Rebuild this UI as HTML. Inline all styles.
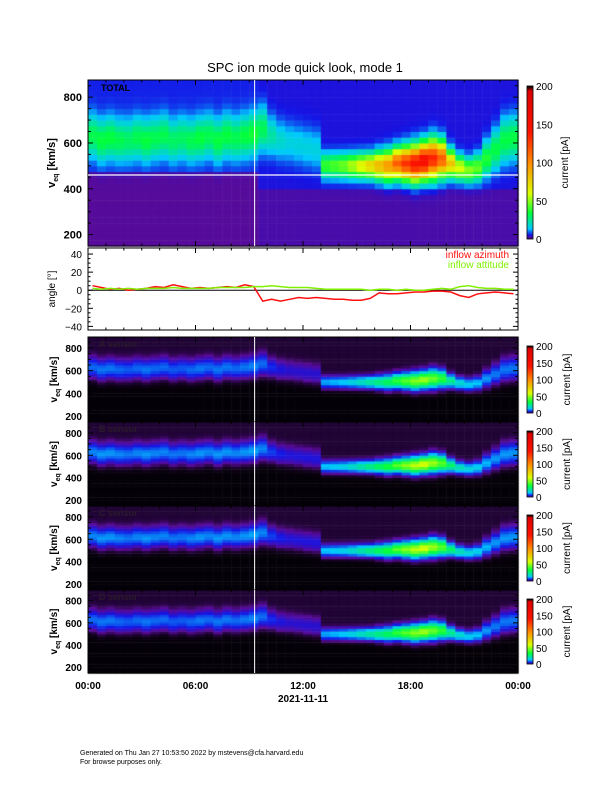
<!DOCTYPE html>
<html><head><meta charset="utf-8"><style>
body{margin:0;background:#fff;}
#wrap{position:relative;width:612px;height:792px;font-family:"Liberation Sans",sans-serif;}
canvas,svg{position:absolute;left:0;top:0;}
</style></head><body>
<div id="wrap">
<canvas id="cv" width="612" height="792"></canvas>
<svg id="sv" width="612" height="792"></svg>
</div>
<script>
// ---- data (half-hour columns, 00:00 .. 23:30) ----
const bandCenter = [620,600,610,600,600,610,600,610,620,600,610,600,610,620,600,620,610,620,630,
  650,620,600,590,580,570,560,
  490,490,490,490,490,490,
  490,490,500,500,500,510,520,520,
  500,480,470,480,
  520,560,600,610];
const bandAmp = [26,28,28,26,24,26,28,26,26,24,24,26,28,26,28,28,26,28,30,
  26,18,14,12,12,12,12,
  35,38,42,50,60,70,
  80,90,110,125,140,150,130,110,
  75,55,45,40,
  32,28,28,28];
const bandWidth = [85,85,85,85,85,85,85,85,85,85,85,85,85,85,85,85,85,85,85,
  90,80,80,80,80,80,80,
  50,50,50,50,50,50,
  55,60,60,65,70,70,75,70,
  55,50,50,55,
  70,80,90,90];
const azimuth = [5,3,1,2,0,1,2,4,3,6,4,2,3,2,3,4,3,6,4,
  -12,-10,-12,-10,-8,-9,-8,
  -9,-10,-10,-11,-11,-9,
  -3,-4,-4,-3,-2,-2,-1,-1,
  -2,-6,-8,-4,
  -3,-2,-3,-4];
const attitude = [2,1,2,1,2,1,2,2,2,3,2,2,2,2,3,3,3,3,4,
  4,5,4,3,3,3,2,
  1,1,1,1,1,0,
  1,1,0,1,0,0,1,2,
  1,4,5,3,
  2,2,1,1];
const velTicks = [200,400,600,800];
const angTicks = [-40,-20,0,20,40];
const cbTicks = [0,50,100,150,200];
const timeLabels = ["00:00","06:00","12:00","18:00","00:00"];
const sensorScale = [0.35,0.4,0.4,0.35];
const sensorNames = ["A sensor","B sensor","C sensor","D sensor"];

const X0=88,X1=518;
const xs=h=>X0+(X1-X0)*h/24;
function vScale(top,bot,vmax,vmin){return v=>top+(vmax-v)/(vmax-vmin)*(bot-top);}
const panels=[
 {top:80,bot:246,vmax:875,vmin:150,kind:'total'},
 {top:337,bot:422,vmax:897,vmin:147,kind:0},
 {top:422,bot:506,vmax:897,vmin:147,kind:1},
 {top:506,bot:590,vmax:897,vmin:147,kind:2},
 {top:590,bot:673,vmax:897,vmin:147,kind:3}];
const AT=248,AB=330,AMAX=46.7,AMIN=-44;
const ys=a=>AT+(AMAX-a)/(AMAX-AMIN)*(AB-AT);

const stops=[[0,[0,0,0]],[0.01,[90,10,150]],[0.03,[20,20,230]],[0.07,[0,200,255]],[0.17,[0,255,60]],[0.3,[220,255,0]],[0.5,[255,140,0]],[0.7,[255,20,0]],[0.97,[220,0,0]],[1,[0,0,0]]];
function cmap(val){let t=Math.max(0,Math.min(1,val/200));
 for(let i=1;i<stops.length;i++){if(t<=stops[i][0]){const a=stops[i-1],b=stops[i];const f=(t-a[0])/(b[0]-a[0]);
  return `rgb(${a[1].map((c,k)=>Math.round(c+(b[1][k]-c)*f)).join(',')})`;}}
 return 'rgb(0,0,0)';}

const cv=document.getElementById('cv');const ctx=cv.getContext('2d');
const VSTEP=25;
panels.forEach(p=>{
 const vy=vScale(p.top,p.bot,p.vmax,p.vmin);
 for(let i=0;i<bandCenter.length;i++){
  const h=i*0.5,xa=xs(h),xb=xs(h+0.5);
  for(let v=125;v<925;v+=VSTEP){
   const c=bandCenter[i],w=bandWidth[i];
   let val;
   if(p.kind==='total'){
    let bg;
    if(h<9.5) bg=v>460?6.5:2.2; else bg=v>390?5.5:3;
    val=bg+bandAmp[i]*Math.exp(-Math.pow((v-c)/w,2));
   }else{
    const bg=v>c-w?0.7:0.1;
    val=bg+bandAmp[i]*sensorScale[p.kind]*Math.exp(-Math.pow((v-c)/(w*0.9),2));
   }
   let ya=vy(v+VSTEP),yb=vy(v);
   ya=Math.max(ya,p.top);yb=Math.min(yb,p.bot);
   if(yb<=ya)continue;
   ctx.fillStyle=cmap(val);ctx.fillRect(xa,ya,xb-xa+0.5,yb-ya+0.5);
  }
 }
});
function colorbar(top,bot){for(let y=top;y<bot;y++){ctx.fillStyle=cmap(200*(bot-y)/(bot-top));ctx.fillRect(527,y,6,1);}}

const NS='http://www.w3.org/2000/svg';const sv=document.getElementById('sv');
function el(tag,attrs,txt){const e=document.createElementNS(NS,tag);for(const k in attrs)e.setAttribute(k,attrs[k]);if(txt!==undefined)e.textContent=txt;sv.appendChild(e);return e;}

const title=el('text',{x:305,y:72,'font-size':13,'text-anchor':'middle',fill:'#000'},'SPC ion mode quick look, mode 1');



panels.forEach((p,pi)=>{
 const vy=vScale(p.top,p.bot,p.vmax,p.vmin);
 const fr=el('rect',{x:X0,y:p.top,width:X1-X0,height:p.bot-p.top,fill:'none',stroke:'#000','stroke-width':1});
 
 
 const vl=el('line',{x1:xs(9.3),x2:xs(9.3),y1:p.top,y2:p.bot,stroke:'#fff','stroke-width':1});
 
 
 if(p.kind==='total'){
  const hl=el('line',{x1:X0,x2:X1,y1:vy(460),y2:vy(460),stroke:'#fff','stroke-width':1.2});
  
  
  const tl=el('text',{x:X0+13,y:p.top+11,'font-size':9,'font-weight':'bold',fill:'#000'},'TOTAL');
  
  
 } else {
  const tl=el('text',{x:X0+11,y:p.top+10,'font-size':9,'font-weight':'bold',fill:'#2a1a2a'},sensorNames[p.kind]);
  
  
 }
 const big=p.kind==='total';
 for(let v=150;v<=900;v+=50){const y=vy(v);if(y<p.top||y>p.bot)continue;
  const L=(v%200===0)?5:3;
  el('line',{x1:X0,x2:X0+L,y1:y,y2:y,stroke:'#000'});el('line',{x1:X1,x2:X1-L,y1:y,y2:y,stroke:'#000'});}
 velTicks.forEach(v=>{const t=el('text',{x:X0-6,y:vy(v)+4,'font-size':big?11:10,'font-weight':'bold','text-anchor':'end',fill:'#000'},v);
  
  });
 const cy=(p.top+p.bot)/2;
 const yl=el('text',{x:0,y:0,'font-size':big?11:10,'font-weight':'bold','text-anchor':'middle',fill:'#000',transform:`translate(${big?55:57},${cy}) rotate(-90)`});
 yl.innerHTML='v<tspan font-size="7" dy="3">eq</tspan><tspan dy="-3"> [km/s]</tspan>';
 
 
 const ct=big?86:p.top+9,cb=big?239:p.bot-9;
 colorbar(ct,cb);
 const cbf=el('rect',{x:527,y:ct,width:6,height:cb-ct,fill:'none',stroke:'#000','stroke-width':0.8});
 
 
 cbTicks.forEach(t=>{const y=cb-(cb-ct)*t/200;const tt=el('text',{x:536,y:y+4,'font-size':10,fill:'#000'},t);
  
  });
 const cl=el('text',{x:0,y:0,'font-size':10,'text-anchor':'middle',fill:'#000',transform:`translate(${big?568:570},${(ct+cb)/2}) rotate(-90)`},'current [pA]');
 
 
 for(let h=0;h<=24;h++){const x=xs(h);const L=h%6===0?5:2.5;
  el('line',{x1:x,x2:x,y1:p.bot,y2:p.bot-L,stroke:'#000'});el('line',{x1:x,x2:x,y1:p.top,y2:p.top+L,stroke:'#000'});}
});

const af=el('rect',{x:X0,y:AT,width:X1-X0,height:AB-AT,fill:'#fff',stroke:'#000'});


const zl=el('line',{x1:X0,x2:X1,y1:ys(0),y2:ys(0),stroke:'#000'});


for(let a=-40;a<=40;a+=5){const L=a%20===0?5:2.5;el('line',{x1:X0,x2:X0+L,y1:ys(a),y2:ys(a),stroke:'#000'});el('line',{x1:X1,x2:X1-L,y1:ys(a),y2:ys(a),stroke:'#000'});}
for(let h=0;h<=24;h++){const x=xs(h);const L=h%6===0?5:2.5;el('line',{x1:x,x2:x,y1:AB,y2:AB-L,stroke:'#000'});el('line',{x1:x,x2:x,y1:AT,y2:AT+L,stroke:'#000'});}
angTicks.forEach(a=>{const t=el('text',{x:X0-6,y:ys(a)+4,'font-size':10,'text-anchor':'end',fill:'#000'},a===0?'0':(a<0?'\u2212'+(-a):a));
 
 });
const al=el('text',{x:0,y:0,'font-size':10,'text-anchor':'middle',fill:'#000',transform:`translate(55,${(AT+AB)/2}) rotate(-90)`},'angle [°]');


function series(arr,color,name){const pts=arr.map((a,i)=>`${xs(i*0.5+0.25).toFixed(1)},${ys(a).toFixed(1)}`).join(' ');
 const pl=el('polyline',{points:pts,fill:'none',stroke:color,'stroke-width':1.5});
 
 }
series(azimuth,'#ff1010','inflow-azimuth-line');
series(attitude,'#80f000','inflow-attitude-line');
const l1=el('text',{x:509,y:258,'font-size':10,'text-anchor':'end',fill:'#ff1010'},'inflow azimuth');


const l2=el('text',{x:509,y:268,'font-size':10,'text-anchor':'end',fill:'#80f000'},'inflow attitude');



timeLabels.forEach((t,i)=>{const tt=el('text',{x:xs(i*6),y:689,'font-size':10,'font-weight':'bold','text-anchor':'middle',fill:'#000'},t);
 
 });
const dl=el('text',{x:xs(12),y:702,'font-size':10,'font-weight':'bold','text-anchor':'middle',fill:'#000'},'2021-11-11');


const f1=el('text',{x:80,y:755,'font-size':7,fill:'#000'},'Generated on Thu Jan 27 10:53:50 2022 by mstevens@cfa.harvard.edu');


const f2=el('text',{x:80,y:764,'font-size':7,fill:'#000'},'For browse purposes only.');


</script>
</body></html>
